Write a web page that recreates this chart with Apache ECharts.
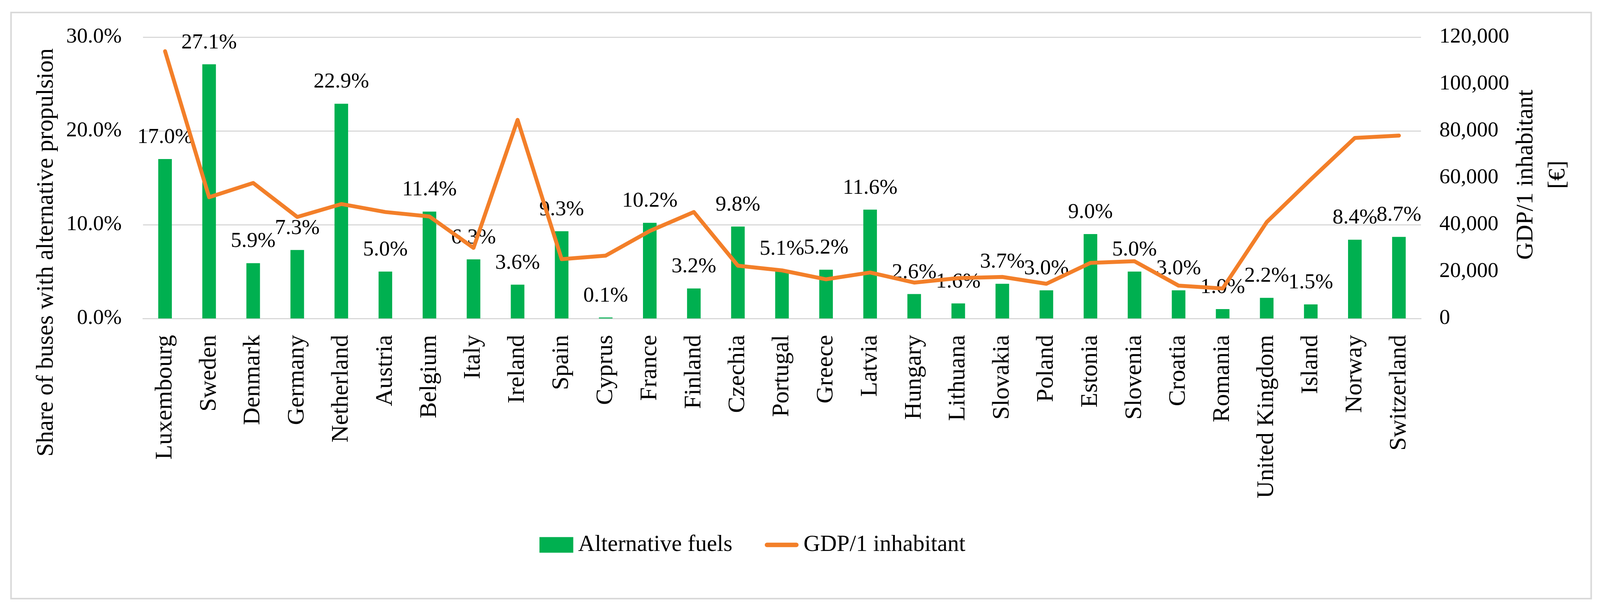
<!DOCTYPE html>
<html>
<head>
<meta charset="utf-8">
<script src="https://cdn.jsdelivr.net/npm/echarts/dist/echarts.min.js"></script>
<style>
html,body{margin:0;padding:0;background:#ffffff;overflow:hidden;}
#chart{width:100vw;height:100vh;}
</style>
</head>
<body>
<div id="chart"></div>
<script>
const countries = ['Luxembourg','Sweden','Denmark','Germany','Netherland','Austria','Belgium','Italy','Ireland','Spain','Cyprus','France','Finland','Czechia','Portugal','Greece','Latvia','Hungary','Lithuana','Slovakia','Poland','Estonia','Slovenia','Croatia','Romania','United Kingdom','Island','Norway','Switzerland'];
const altFuelShare = [17.0,27.1,5.9,7.3,22.9,5.0,11.4,6.3,3.6,9.3,0.1,10.2,3.2,9.8,5.1,5.2,11.6,2.6,1.6,3.7,3.0,9.0,5.0,3.0,1.0,2.2,1.5,8.4,8.7];
const gdpPerInhabitant = [114000,51700,57800,43300,48800,45400,43500,30100,84700,25300,26800,37300,45400,22500,20500,16700,19600,15300,17200,17700,14800,23700,24400,14000,12800,41100,59300,77000,78000];
const shareTicks = [0,10,20,30];
const gdpTicks = [0,20000,40000,60000,80000,100000,120000];
const seriesNames = ['Alternative fuels','GDP/1 inhabitant'];
const axisTitles = ['Share of buses with alternative propulsion','GDP/1 inhabitant\n[€]'];

const FONT = '"Liberation Serif", "Times New Roman", serif';
const chart = echarts.init(document.getElementById('chart'));
const W = chart.getWidth(), H = chart.getHeight();
const SX = W / 4352, SY = H / 1556;
const X = v => v * SX, Y = v => v * SY;

chart.setOption({
  animation: false,
  backgroundColor: '#ffffff',
  graphic: [{
    type: 'rect', silent: true, z: -10,
    shape: {x: X(30), y: Y(32), width: X(4298), height: Y(1500)},
    style: {fill: 'none', stroke: '#d9d9d9', lineWidth: 4}
  }, {
    type: 'text', silent: true, x: X(4194), y: Y(447), rotation: Math.PI / 2,
    style: {text: axisTitles[1], fill: '#000', fontFamily: FONT, fontSize: 62, lineHeight: 82,
      textAlign: 'center', verticalAlign: 'middle', textVerticalAlign: 'middle'}
  }],
  grid: {left: X(389), top: Y(95), width: X(3476), height: Y(720), containLabel: false, outerBoundsMode: 'none'},
  legend: {
    left: X(1462), top: Y(1360),
    itemWidth: X(92), itemHeight: 40, itemGap: X(88),
    textStyle: {fontFamily: FONT, fontSize: 59, color: '#000', padding: [0,0,0,X(8)]},
    data: [
      {name: seriesNames[0], icon: 'rect'},
      {name: seriesNames[1], icon: 'path://M0,0 M92,40 M6,14 L86,14 A6,6 0 0 1 86,26 L6,26 A6,6 0 0 1 6,14 Z'}
    ]
  },
  xAxis: {
    type: 'category', data: countries,
    axisLine: {show: true, lineStyle: {color: '#d9d9d9', width: 3}},
    axisTick: {show: false},
    axisLabel: {interval: 0, rotate: 90, margin: Y(42), fontFamily: FONT, fontSize: 62, color: '#000'}
  },
  yAxis: [{
    type: 'value', min: shareTicks[0], max: shareTicks[shareTicks.length-1], interval: shareTicks[1]-shareTicks[0],
    axisLine: {show: false}, axisTick: {show: false},
    axisLabel: {margin: X(58), fontFamily: FONT, fontSize: 55, color: '#000', formatter: v => v.toFixed(1) + '%'},
    splitLine: {lineStyle: {color: '#d9d9d9', width: 3}},
    name: axisTitles[0], nameLocation: 'middle', nameGap: X(226), nameMoveOverlap: false,
    nameTextStyle: {fontFamily: FONT, fontSize: 62, color: '#000', lineHeight: 70, padding: [0, Y(382), 0, 0]}
  }, {
    type: 'value', min: gdpTicks[0], max: gdpTicks[gdpTicks.length-1], interval: gdpTicks[1]-gdpTicks[0],
    position: 'right',
    axisLine: {show: false}, axisTick: {show: false},
    axisLabel: {margin: X(50), fontFamily: FONT, fontSize: 55, color: '#000', formatter: v => v.toLocaleString('en-US')},
    splitLine: {show: false}
  }],
  series: [{
    name: seriesNames[0], type: 'bar', data: altFuelShare, barWidth: X(37),
    itemStyle: {color: '#00B050'},
    label: {show: true, position: 'top', distance: 28, fontFamily: FONT, fontSize: 55, color: '#000',
      formatter: p => p.value.toFixed(1) + '%'}
  }, {
    name: seriesNames[1], type: 'line', yAxisIndex: 1, data: gdpPerInhabitant,
    symbol: 'none', showSymbol: false, z: 3,
    lineStyle: {color: '#F37F29', width: 10, cap: 'round', join: 'round'},
    itemStyle: {color: '#F37F29'}
  }]
});
</script>
</body>
</html>
